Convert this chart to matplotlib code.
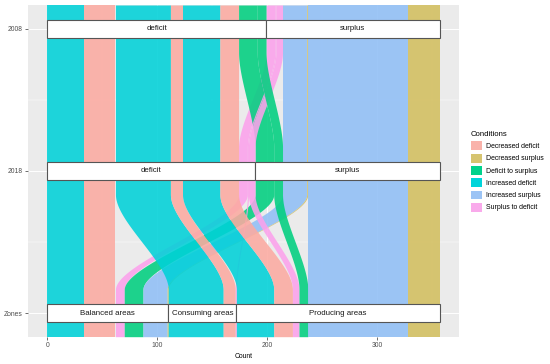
import numpy as np
import matplotlib.pyplot as plt
from matplotlib.patches import Rectangle, Patch

plt.rcParams['font.family'] = ['Liberation Sans', 'DejaVu Sans']

# axes of the alluvial plot, bottom to top
axis_names = ['Zones', '2018', '2008']
zones = ['Balanced areas', 'Consuming areas', 'Producing areas']
states = ['deficit', 'surplus']

# legend order of the conditions and their states in 2008 / 2018
conditions = ['Decreased deficit', 'Decreased surplus', 'Deficit to surplus',
              'Increased deficit', 'Increased surplus', 'Surplus to deficit']
cond_2008 = ['deficit', 'surplus', 'deficit', 'deficit', 'surplus', 'surplus']
cond_2018 = ['deficit', 'surplus', 'surplus', 'deficit', 'surplus', 'deficit']
# order of the lodes inside the same pair of states
cond_rank = ['Increased deficit', 'Decreased deficit', 'Surplus to deficit',
             'Deficit to surplus', 'Increased surplus', 'Decreased surplus']
cond_colors = ['#FCAAA1', '#D3BF5F', '#00CF7F', '#00D1D8', '#90BFF6', '#FCA1EB']
key_colors = ['#F9B2AA', '#D6C470', '#00D28C', '#00D4DA', '#9CC4F5', '#F9AAEB']

# alluvia (zone, condition, count)
flow_zone = ['Balanced areas'] * 6 + ['Consuming areas'] * 3 + ['Producing areas'] * 6
flow_cond = ['Increased deficit', 'Decreased deficit', 'Surplus to deficit',
             'Deficit to surplus', 'Increased surplus', 'Decreased surplus',
             'Increased deficit', 'Decreased deficit', 'Surplus to deficit',
             'Increased deficit', 'Decreased deficit', 'Surplus to deficit',
             'Deficit to surplus', 'Increased surplus', 'Decreased surplus']
flow_count = [33, 29, 8, 17, 22, 1,
              50, 11, 1,
              34, 17, 6, 8, 91, 29]

n = len(flow_count)
ci = [conditions.index(c) for c in flow_cond]
s08 = [states.index(cond_2008[i]) for i in ci]
s18 = [states.index(cond_2018[i]) for i in ci]
zi = [zones.index(z) for z in flow_zone]
rk = [cond_rank.index(c) for c in flow_cond]

# sort keys per axis: own stratum first, then the neighbouring axes
keys = [
    lambda j: (zi[j], s18[j], s08[j], rk[j]),
    lambda j: (s18[j], s08[j], zi[j], rk[j]),
    lambda j: (s08[j], s18[j], zi[j], rk[j]),
]
strata = [zi, s18, s08]
labels = [zones, states, states]

lo = np.zeros((3, n))
hi = np.zeros((3, n))
for a in range(3):
    order = sorted(range(n), key=keys[a])
    pos = 0
    for j in order:
        lo[a, j] = pos
        pos += flow_count[j]
        hi[a, j] = pos

total = sum(flow_count)
half = 1 / 6
knot = 0.28
t = np.linspace(0, 1, 80)


def bez(p0, p1, p2, p3):
    return (1 - t) ** 3 * p0 + 3 * (1 - t) ** 2 * t * p1 + 3 * (1 - t) * t ** 2 * p2 + t ** 3 * p3


def edge(xs):
    ys, xx = [], []
    for a in range(3):
        y0 = a + 1 - half
        y1 = a + 1 + half
        ys += [y0, y1]
        xx += [xs[a], xs[a]]
        if a < 2:
            ya, yb = y1, a + 2 - half
            d = yb - ya
            ys += list(bez(ya, ya + knot * d, yb - knot * d, yb))
            xx += list(bez(xs[a], xs[a], xs[a + 1], xs[a + 1]))
    return np.array(ys), np.array(xx)


fig = plt.figure(figsize=(5.5, 3.64), dpi=100)
ax = fig.add_axes([27.7 / 550, 1 - 336.7 / 364, (459.3 - 27.7) / 550, (336.7 - 5) / 364])
ax.set_facecolor('#EBEBEB')

for j in range(n):
    y, xl = edge(lo[:, j])
    _, xh = edge(hi[:, j])
    ax.fill_betweenx(y, xl, xh, color=cond_colors[ci[j]], alpha=0.88, linewidth=0, zorder=2)

# strata boxes
for a in range(3):
    for s, name in enumerate(labels[a]):
        idx = [j for j in range(n) if strata[a][j] == s]
        if not idx:
            continue
        x0 = min(lo[a, j] for j in idx)
        x1 = max(hi[a, j] for j in idx)
        ax.add_patch(Rectangle((x0, a + 1 - 1 / 16), x1 - x0, 1 / 8, facecolor='white',
                               edgecolor='#555555', linewidth=0.8, zorder=3))
        ax.text((x0 + x1) / 2, a + 1, name, ha='center', va='center', fontsize=5.7,
                color='#1A1A1A', zorder=4)

ax.set_xlim(-0.05 * total, 1.05 * total)
ax.set_ylim(1 - half, 3 + half)
ax.set_xticks([0, 100, 200, 300])
ax.set_xticks([50, 150, 250, 350], minor=True)
ax.set_yticks([1, 2, 3])
ax.set_yticklabels(axis_names)
ax.set_yticks([1.5, 2.5], minor=True)
ax.grid(which='major', color='white', linewidth=0.7, zorder=0)
ax.grid(which='minor', color='white', linewidth=0.35, zorder=0)
ax.set_axisbelow(True)
ax.tick_params(which='major', length=2, width=0.5, color='#333333', labelsize=4.9,
               labelcolor='#4D4D4D', pad=1.5)
ax.tick_params(which='minor', length=0)
for sp in ax.spines.values():
    sp.set_visible(False)
ax.set_xlabel('Count', fontsize=4.9, labelpad=3)

handles = [Patch(facecolor=c, edgecolor='none') for c in key_colors]
leg = fig.legend(handles, conditions, title='Conditions', loc='upper left',
                 bbox_to_anchor=(471 / 550, 1 - 131 / 364), frameon=False,
                 fontsize=4.95, title_fontsize=5.6, handlelength=1.6, handleheight=1.6,
                 labelspacing=0.5, handletextpad=0.6, borderpad=0, borderaxespad=0,
                 alignment='left')

fig.savefig('out.png', dpi=100)
